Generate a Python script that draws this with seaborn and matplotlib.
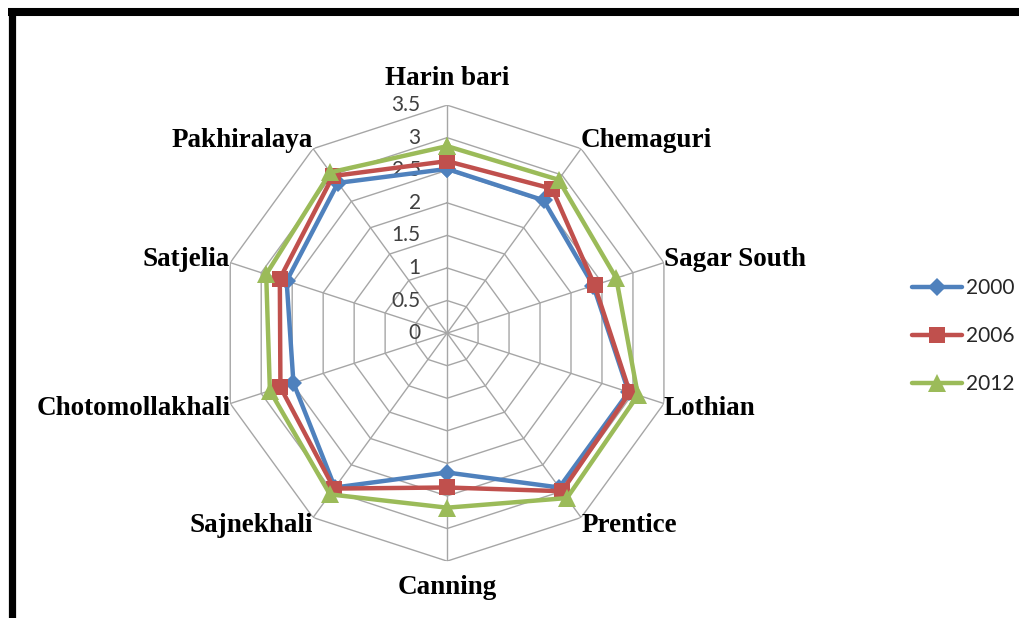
import numpy as np
import pandas as pd
import matplotlib
matplotlib.use('Agg')
import matplotlib.pyplot as plt
import seaborn as sns
from matplotlib.lines import Line2D

# 数据
categories = ['Harin bari', 'Chemaguri', 'Sagar South', 'Lothian', 'Prentice',
              'Canning', 'Sajnekhali', 'Chotomollakhali', 'Satjelia', 'Pakhiralaya']
years = ['2000', '2006', '2012']
vals_2000 = [2.52, 2.52, 2.36, 2.93, 2.93, 2.14, 2.93, 2.48, 2.59, 2.85]
vals_2006 = [2.64, 2.74, 2.38, 2.95, 3.00, 2.37, 2.95, 2.69, 2.70, 2.98]
vals_2012 = [2.87, 2.91, 2.73, 3.08, 3.13, 2.68, 3.06, 2.86, 2.92, 3.05]
r_ticks = [0, 0.5, 1, 1.5, 2, 2.5, 3, 3.5]
r_tick_labels = ['0', '0.5', '1', '1.5', '2', '2.5', '3', '3.5']

colors = {'2000': '#4F81BD', '2006': '#C0504D', '2012': '#9BBB59'}
markers = {'2000': 'D', '2006': 's', '2012': '^'}
msizes = {'2000': 9, '2006': 12, '2012': 13}

sns.set_theme(style='white')
plt.rcParams['font.family'] = ['Lato', 'DejaVu Sans']

n = len(categories)
theta = np.arange(n) * 2 * np.pi / n
theta_closed = np.append(theta, 2 * np.pi)

fig = plt.figure(figsize=(10.19, 6.18), dpi=100)
ax = fig.add_axes([0.215, 0.092, 0.4475, 0.738], projection='polar')
ax.set_theta_zero_location('N')
ax.set_theta_direction(-1)
ax.set_ylim(0, 3.5)
ax.grid(False)
ax.set_xticks([])
ax.set_yticks([])
ax.spines['polar'].set_visible(False)

# 十边形网格
grid_color = '#A6A6A6'
for r in r_ticks[1:]:
    ax.plot(theta_closed, [r] * (n + 1), color=grid_color, lw=1, zorder=1)
for t in theta:
    ax.plot([t, t], [0, 3.5], color=grid_color, lw=1, zorder=1)

# 刻度标签
for r, lab in zip(r_ticks, r_tick_labels):
    ax.annotate(lab, xy=(0, r), xytext=(-19, 0), textcoords='offset points',
                ha='right', va='center', fontsize=15, color='#404040')

# 类别标签（相对十边形顶点的竖直偏移，像素）
dy_px = {0: 14, 1: -4, 2: 3, 3: -5, 4: 5, 5: -14}
for i, (t, name) in enumerate(zip(theta, categories)):
    s, c = np.sin(t), np.cos(t)
    ha = 'center' if abs(s) < 1e-6 else ('left' if s > 0 else 'right')
    va = 'bottom' if c > 0.5 else ('top' if c < -0.5 else 'center')
    dy = dy_px[min(i, n - i)] * 0.72
    ax.annotate(name, xy=(t, 3.5), xytext=(0, dy), textcoords='offset points',
                ha=ha, va=va, fontsize=19.5, fontweight='bold',
                family='Liberation Serif', color='black')

# 数据线
series = {'2000': vals_2000, '2006': vals_2006, '2012': vals_2012}
for y in years:
    v = series[y]
    df = pd.DataFrame({'theta': theta_closed, 'value': v + [v[0]]})
    sns.lineplot(data=df, x='theta', y='value', ax=ax, color=colors[y],
                 marker=markers[y], markersize=msizes[y], markeredgewidth=0,
                 lw=3.2, sort=False, label=y, zorder=3)

ax.set_xlabel('')
ax.set_ylabel('')
leg = ax.legend(loc='upper left', bbox_to_anchor=(0.887, 0.563),
                bbox_transform=fig.transFigure, frameon=False, fontsize=15,
                handlelength=2.4, labelspacing=1.33, handletextpad=0.2,
                borderaxespad=0)

# 外边框
fig.add_artist(Line2D([11.5 / 1019, 11.5 / 1019], [0, 1 - 8 / 618],
                      transform=fig.transFigure, color='black', lw=5.2,
                      solid_capstyle='butt'))
fig.add_artist(Line2D([8 / 1019, 1], [1 - 12 / 618, 1 - 12 / 618],
                      transform=fig.transFigure, color='black', lw=5.8,
                      solid_capstyle='butt'))

fig.savefig('out.png', dpi=100)
